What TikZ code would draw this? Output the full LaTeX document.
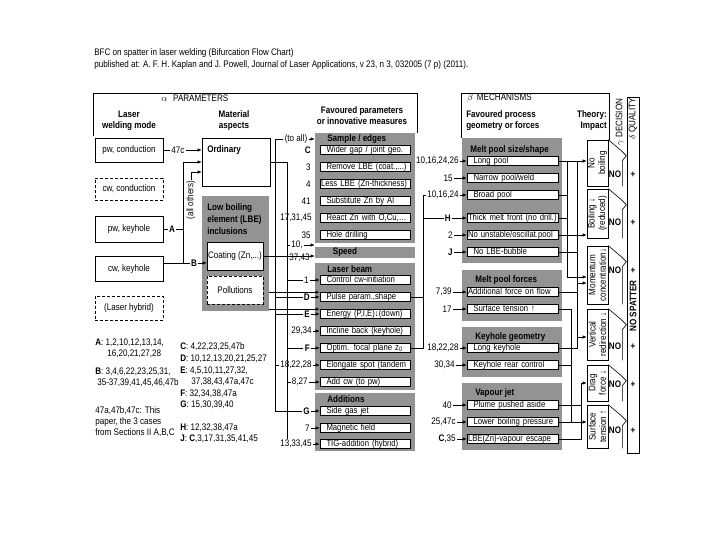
\documentclass[tikz,border=0pt]{standalone}
\usepackage{fontspec}
\setmainfont{Liberation Sans}[FakeStretch=0.85]
\usetikzlibrary{arrows.meta,calc,positioning}
\definecolor{BFCGray}{HTML}{939393}

\begin{document}
\begin{tikzpicture}[x=1pt,y=-1pt,line width=0.6pt,
    font=\fontsize{9.5}{11}\selectfont,
    modebox/.style={draw,minimum width=68pt,minimum height=#1,inner sep=1pt},
    modebox/.default=24pt,
    panel/.style={fill=BFCGray,inner sep=0pt,minimum width=100pt,minimum height=#1},
    itembox/.style={draw,fill=white,inner xsep=1pt,inner ysep=0pt,text height=7pt,
      text depth=2pt,text width=#1,align=left,font=\fontsize{9.1}{11}\selectfont,
      execute at begin node={\hbox to\hsize\bgroup},execute at end node={\hss\egroup}},
    itembox/.default=88pt,
    pushed/.style={execute at begin node={\hspace*{5.5pt}}},
    theorybox/.style={draw,rotate=90,align=center,inner sep=0pt,minimum width=#1,
      minimum height=21pt,font=\fontsize{9.5}{10.5}\selectfont},
    head/.style={font=\fontsize{9.5}{11}\selectfont\bfseries,align=center,inner sep=0pt},
    paneltitle/.style={font=\fontsize{9.5}{11}\selectfont\bfseries,anchor=west,inner sep=0pt},
    lab/.style={inner sep=1pt,fill=white,anchor=east},
    keylab/.style={lab,font=\fontsize{9.5}{11}\selectfont\bfseries},
    arrow/.style={-{Latex[length=4pt,width=3.4pt]}}
  ]
    \useasboundingbox (0,0) rectangle (720,540);

    % title
    \node[anchor=west,inner sep=0pt] (title) at (94,53) {BFC on spatter in laser welding (Bifurcation Flow Chart)};
    \node[anchor=west,inner sep=0pt] (source) at (94,65) {published at: A. F. H. Kaplan and J. Powell, Journal of Laser Applications, v 23, n 3, 032005 (7 p) (2011).};

    % alpha / beta frames and headings
    \draw (93,136) -- (93,93) -- (417,93) -- (417,133);
    \draw (461,138) -- (461,93) -- (609,93) -- (609,140);
    \node[anchor=west,inner sep=0pt] (alphahead) at (161,98) {$\alpha$\hspace{6pt}PARAMETERS};
    \node[anchor=west,inner sep=0pt] (betahead) at (467,98) {$\beta$\hspace{4pt}MECHANISMS};
    \node[head] (modehead) at (129,121) {Laser\\welding mode};
    \node[head] (mathead) at (234,121) {Material\\aspects};
    \node[head] (favhead) at (362,116) {Favoured parameters\\or innovative measures};
    \node[head,anchor=west,align=left] (prochead) at (466,121) {Favoured process\\geometry or forces};
    \node[head,anchor=east,align=right] (theohead) at (607,121) {Theory:\\Impact};
    \node[rotate=90,inner sep=0pt] (decision) at (620,122) {$\gamma$ DECISION};
    \node[draw,minimum width=12pt,minimum height=356pt,inner sep=0pt] (qualitycol) at (633,275) {};
    \node[rotate=90,inner sep=0pt] (quality) at (633,119) {$\delta$ QUALITY};
    \node[rotate=90,inner sep=0pt,font=\fontsize{9.5}{11}\selectfont\bfseries] (nospatter) at (633,306) {NO SPATTER};

    % laser welding mode
    \node[modebox] (pwcond) at (129,150) {pw, conduction};
    \node[modebox=22pt,densely dashed] (cwcond) at (129,189) {cw, conduction};
    \node[modebox=26pt] (pwkey) at (129,229) {pw, keyhole};
    \node[modebox=25pt] (cwkey) at (129,269) {cw, keyhole};
    \node[modebox,densely dashed] (hybrid) at (129,308) {(Laser hybrid)};

    % material aspects
    \node[draw,minimum width=68pt,minimum height=48pt,inner sep=0pt] (ordinary) at (236,162) {};
    \node[paneltitle] (ordtitle) at (207,150) {Ordinary};
    \node[panel=115pt,minimum width=67pt] (lbe) at (235.5,253.5) {};
    \node[paneltitle,align=left,font=\fontsize{9.5}{12}\selectfont\bfseries] (lbetitle) at (207,219) {Low boiling\\element (LBE)\\inclusions};
    \node[draw,fill=white,minimum width=56pt,minimum height=28pt,inner sep=0pt] (coating) at (235,256) {Coating (Zn,...)};
    \node[draw,densely dashed,fill=white,minimum width=56pt,minimum height=28pt,inner sep=0pt] (pollution) at (235,290) {Pollutions};

    % mode -> material
    \node[lab,anchor=center] (lab47c) at (178,150) {47c};
    \node[keylab,anchor=center] (labA) at (172,229) {A};
    \node[keylab,anchor=center] (labB) at (194,263) {B};
    \node[lab,anchor=center,rotate=90] (allothers) at (191,200) {(all others)};
    \coordinate (aknee) at (183,229);
    \coordinate (atop) at (183,162);
    \coordinate (abot) at (183,263);
    \draw (pwcond) -- (lab47c);
    \draw[arrow] (lab47c) -- (lab47c -| ordinary.west);
    \draw (pwkey) -- (labA) -- (aknee);
    \draw[arrow] (abot) -- (atop) -- (ordinary);
    \draw[arrow] (allothers.east) |- ([yshift=-10pt]ordinary.west);
    \draw (cwkey.east |- labB) -- (labB);
    \draw[arrow] (labB) -- (labB -| coating.west);

    % favoured parameters
    \node[panel=110pt] (sample) at (365,188) {};
    \node[paneltitle] (sampletitle) at (327,139) {Sample / edges};
    \node[itembox,pushed] (wider) at (365,150) {Wider gap / joint geo.};
    \node[itembox,pushed] (removelbe) at (365,167) {Remove LBE (coat.,...)};
    \node[itembox] (lesslbe) at (365,184) {Less LBE (Zn-thickness)};
    \node[itembox,pushed] (substzn) at (365,201) {Substitute Zn by Al};
    \node[itembox,pushed] (reactzn) at (365,218) {React Zn with O,Cu,…};
    \node[itembox,pushed] (holedrill) at (365,235) {Hole drilling};
    \node[keylab] (labC) at (312,150) {C};
    \node[lab] (lab3) at (312,167) {3};
    \node[lab] (lab4) at (312,184) {4};
    \node[lab] (lab41) at (312,201) {41};
    \node[lab] (lab173145) at (313,218) {17,31,45};
    \node[lab] (lab35) at (312,235) {35};

    \node[panel=11pt] (speed) at (365,252) {};
    \node[paneltitle,anchor=center] (speedtitle) at (345,252) {Speed};
    \node[lab] (lab10) at (304,245) {10,};
    \node[lab,fill=none] (lab3743) at (311,258) {37,43};

    \node[panel=127pt] (laserbeam) at (365,326.5) {};
    \node[paneltitle] (beamtitle) at (327,269) {Laser beam};
    \node[itembox,pushed] (cwinit) at (365,280) {Control cw-initiation};
    \node[itembox,pushed] (pulse) at (365,297) {Pulse param.,shape};
    \node[itembox,pushed] (energy) at (365,314) {Energy (P,I,E)↓(down)};
    \node[itembox,pushed] (incline) at (365,331) {Incline back (keyhole)};
    \node[itembox,pushed] (focal) at (365,348) {Optim. focal plane z\textsubscript{0}};
    \node[itembox,pushed] (elongate) at (365,365) {Elongate spot (tandem};
    \node[itembox,pushed] (addcw) at (365,382) {Add cw (to pw)};
    \node[lab] (lab1) at (310,280) {1};
    \node[keylab] (labD) at (311,297) {D};
    \node[keylab] (labE) at (311,314) {E};
    \node[lab] (lab2934) at (313,331) {29,34};
    \node[keylab] (labF) at (311,348) {F};
    \node[lab] (lab182228) at (313,365) {18,22,28};
    \node[lab] (lab827) at (309,382) {8,27};

    \node[panel=58pt] (additions) at (365,422) {};
    \node[paneltitle] (addtitle) at (327,399) {Additions};
    \node[itembox,pushed] (sidegas) at (365,411) {Side gas jet};
    \node[itembox,pushed] (magnetic) at (365,428) {Magnetic field};
    \node[itembox,pushed] (tig) at (365,444) {TIG-addition (hybrid)};
    \node[keylab] (labG) at (311,411) {G};
    \node[lab] (lab7) at (311,428) {7};
    \node[lab] (lab133345) at (313,444) {13,33,45};

    % material -> parameters
    \coordinate (v1top) at (275,139);
    \coordinate (v1bot) at (275,411);
    \coordinate (v2top) at (287,162);
    \node[lab,anchor=center] (toall) at (296,139) {(to all)};
    \draw (v1top) -- (toall);
    \draw[arrow] (toall) -- (toall -| sample.west);
    \draw (v1top) -- (v1bot) -- (labG);
    \draw (ordinary) -- (v2top) -- (v2top |- lab133345.north);
    \draw (lab10 -| v2top) -- (lab10);
    \draw[arrow] (lab10) -- (lab10 -| speed.west);
    \draw[arrow] (coating.east) -- (coating.east -| speed.west);
    \draw (lab1 -| v2top) -- (lab1);
    \draw (labD -| v1top) -- (labD);
    \draw (labE -| v1top) -- (labE);
    \draw (labF -| v2top) -- (labF);
    \draw (lab182228 -| v1top) -- (lab182228);
    \draw (lab827 -| v2top) -- (lab827);
    \draw[arrow] (pulse.north west -| lbe.east) -- (pulse.north west);
    \draw[arrow] (energy.north west -| lbe.east) -- (energy.north west);
    \draw[arrow] (lab1) -- (cwinit);
    \draw[arrow] (labD) -- (pulse);
    \draw[arrow] (labE) -- (energy);
    \draw[arrow] (lab2934) -- (incline);
    \draw[arrow] (labF) -- (focal);
    \draw[arrow] (lab182228) -- (elongate);
    \draw[arrow] (lab827) -- (addcw);
    \draw[arrow] (labG) -- (sidegas);
    \draw[arrow] (lab7) -- (magnetic);
    \draw[arrow] (lab133345) -- (tig);

    % favoured process geometry or forces
    \node[panel=125pt] (meltpool) at (512,200.5) {};
    \node[paneltitle] (pooltitle) at (470,150) {Melt pool size/shape};
    \node[itembox=89pt,pushed] (longpool) at (512.5,161) {Long pool};
    \node[itembox=89pt,pushed] (narrowpool) at (512.5,178) {Narrow pool/weld};
    \node[itembox=89pt,pushed] (broadpool) at (512.5,195) {Broad pool};
    \node[itembox=89pt] (thickmelt) at (512.5,218) {Thick melt front (no drill.)};
    \node[itembox=89pt] (nounstable) at (512.5,235) {No unstable/oscillat.pool};
    \node[itembox=89pt,pushed] (nolbebubble) at (512.5,252) {No LBE-bubble};

    \node[panel=51pt] (forces) at (512,295.5) {};
    \node[paneltitle] (forcetitle) at (475,280) {Melt pool forces};
    \node[itembox=89pt] (addforce) at (512.5,292) {Additional force on flow};
    \node[itembox=89pt,pushed] (surftension) at (512.5,309) {Surface tension ↑};

    \node[panel=50pt] (keyhole) at (512,352) {};
    \node[paneltitle] (keytitle) at (475,337) {Keyhole geometry};
    \node[itembox=89pt,pushed] (longkeyhole) at (512.5,348) {Long keyhole};
    \node[itembox=89pt,pushed] (rearcontrol) at (512.5,365) {Keyhole rear control};

    \node[panel=67pt] (vapourjet) at (512,416.5) {};
    \node[paneltitle] (vapourtitle) at (475,393) {Vapour jet};
    \node[itembox=89pt,pushed] (plume) at (512.5,405) {Plume pushed aside};
    \node[itembox=89pt,pushed] (lowerboil) at (512.5,422) {Lower boiling pressure};
    \node[itembox=89pt] (lbeescape) at (512.5,439) {LBE(Zn)-vapour escape};

    \node[lab] (lab10162426) at (460,161) {10,16,24,26};
    \node[lab] (lab15) at (454,178) {15};
    \node[lab] (lab101624) at (460,195) {10,16,24};
    \node[keylab] (labH) at (452,218) {H};
    \node[lab] (lab2) at (454,235) {2};
    \node[keylab] (labJ) at (454,252) {J};
    \node[lab] (lab739) at (453,292) {7,39};
    \node[lab] (lab17) at (453,309) {17};
    \node[lab] (lab182228b) at (460,348) {18,22,28};
    \node[lab] (lab3034) at (456,365) {30,34};
    \node[lab] (lab40) at (453,405) {40};
    \node[lab] (lab2547c) at (457,422) {25,47c};
    \node[lab] (labC35) at (457,439) {\textbf{C},35};

    % parameters -> process
    \coordinate (v3top) at (423,195);
    \coordinate (v3bot) at (423,348);
    \draw (pulse) -- (pulse -| v3top);
    \draw (focal) -- (v3bot) -- (v3top) -- (lab101624);
    \draw (labH -| v3top) -- (labH);
    \draw[arrow] (lab10162426) -- (longpool);
    \draw[arrow] (lab15) -- (narrowpool);
    \draw[arrow] (lab101624) -- (broadpool);
    \draw[arrow] (labH) -- (thickmelt);
    \draw[arrow] (lab2) -- (nounstable);
    \draw[arrow] (labJ) -- (nolbebubble);
    \draw[arrow] (lab739) -- (addforce);
    \draw[arrow] (lab17) -- (surftension);
    \draw[arrow] (lab182228b) -- (longkeyhole);
    \draw[arrow] (lab3034) -- (rearcontrol);
    \draw[arrow] (lab40) -- (plume);
    \draw[arrow] (lab2547c) -- (lowerboil);
    \draw[arrow] (labC35) -- (lbeescape);

    % theory: impact
    \node[theorybox=46pt] (noboil) at (597.5,163) {No\\boiling};
    \node[theorybox=49pt] (boiling) at (597.5,213.5) {Boiling ↓\\(reduced)};
    \node[theorybox=58pt] (momentum) at (597.5,275) {Momentum\\concentration↓};
    \node[theorybox=51pt] (vertical) at (597.5,334.5) {Vertical\\redirection ↓};
    \node[theorybox=36pt] (drag) at (597.5,383) {Drag\\force ↓};
    \node[theorybox=43pt] (surface) at (597.5,426.5) {Surface\\tension ↑};

    % process -> theory
    \coordinate (va1) at (567,161);
    \coordinate (va2) at (567,277);
    \coordinate (vb1) at (577,161);
    \coordinate (vb2) at (577,337);
    \coordinate (vbm) at (577,283);
    \coordinate (vc1) at (571,309);
    \coordinate (vc2) at (571,422);
    \coordinate (vd1) at (581,383);
    \coordinate (vd2) at (581,439);
    \draw[arrow] (longpool) -- (longpool -| noboil.north);
    \draw[arrow] (va1) -- (va2) -- (va2 -| momentum.north);
    \draw (broadpool) -- (broadpool -| va1);
    \draw (thickmelt) -- (thickmelt -| va1);
    \draw[arrow] (nounstable) -- (nounstable -| boiling.north);
    \draw[arrow] (vb1) -- (vb2) -- (vb2 -| vertical.north);
    \draw[arrow] (vbm) -- (vbm -| momentum.north);
    \draw (nolbebubble) -- (nolbebubble -| vb1);
    \draw (addforce) -- (addforce -| vb1);
    \draw (longkeyhole) -| (vb2);
    \draw (surftension) -- (vc1);
    \draw[arrow] (vc1) -- (vc2) -- (vc2 -| surface.north);
    \draw (rearcontrol) -- (rearcontrol -| vc1);
    \draw (lowerboil) -- (vc2);
    \draw (lbeescape) -- (vd2) -- (vd1);
    \draw[arrow] (vd1) -- (vd1 -| drag.north);
    \draw (plume) -- (plume -| vd1);

    % decision and quality
    \foreach \t/\y in {noboil/174,boiling/222,momentum/270,vertical/346,drag/384,surface/430}{
      \draw (\t.south east) -- ++(13,11) -- ++(5,5) -- ++(-4,5) -- ($(\t.south west)+(14,0)$);
      \node[keylab,anchor=center,fill=none] (no\t) at (615,\y) {NO};
      \node[keylab,anchor=center,fill=none] (plus\t) at (633,\y+1) {+};
    }

    % legend
    \node[anchor=west,align=left,inner sep=0pt] (legA) at (95,348.5) {\textbf{A}: 1,2,10,12,13,14,\\\hspace*{12pt}16,20,21,27,28};
    \node[anchor=west,align=left,inner sep=0pt] (legB) at (95,377.5) {\textbf{B}: 3,4,6,22,23,25,31,\\\hspace*{2pt}35-37,39,41,45,46,47b};
    \node[anchor=west,align=left,inner sep=0pt] (legown) at (95,422) {47a,47b,47c: This\\paper, the 3 cases\\from Sections II A,B,C};
    \node[anchor=west,align=left,inner sep=0pt,font=\fontsize{9.5}{11.6}\selectfont] (legCG) at (180,376) {\textbf{C}: 4,22,23,25,47b\\\textbf{D}: 10,12,13,20,21,25,27\\\textbf{E}: 4,5,10,11,27,32,\\\hspace*{11pt}37,38,43,47a,47c\\\textbf{F}: 32,34,38,47a\\\textbf{G}: 15,30,39,40};
    \node[anchor=west,align=left,inner sep=0pt] (legHJ) at (180,433.5) {\textbf{H}: 12,32,38,47a\\\textbf{J}: \textbf{C},3,17,31,35,41,45};
  \end{tikzpicture}
\end{document}
